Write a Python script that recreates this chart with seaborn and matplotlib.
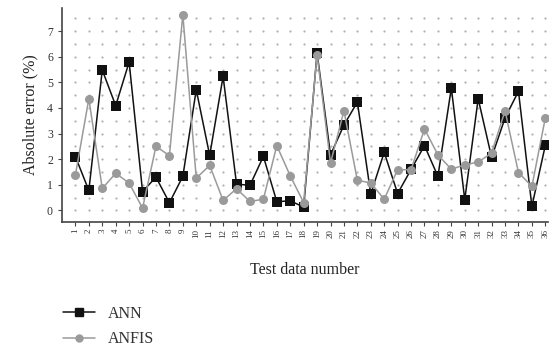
import numpy as np
import pandas as pd
import matplotlib
matplotlib.use("Agg")
import matplotlib.pyplot as plt
import seaborn as sns
from matplotlib.lines import Line2D

test_no = list(range(1, 37))
ann = [2.1, 0.78, 5.48, 4.09, 5.79, 0.74, 1.30, 0.30, 1.33, 4.71,
       2.15, 5.23, 1.03, 0.98, 2.11, 0.34, 0.38, 0.13, 6.15, 2.17,
       3.33, 4.23, 0.64, 2.27, 0.66, 1.6, 2.53, 1.33, 4.78, 0.42,
       4.36, 2.07, 3.61, 4.65, 0.16, 2.54]
anfis = [1.39, 4.36, 0.86, 1.45, 1.07, 0.09, 2.5, 2.14, 7.64, 1.26,
         1.76, 0.39, 0.85, 0.35, 0.44, 2.53, 1.35, 0.31, 6.08, 1.85,
         3.89, 1.18, 1.07, 0.44, 1.59, 1.59, 3.18, 2.17, 1.61, 1.78,
         1.89, 2.24, 3.89, 1.48, 0.94, 3.61]

df = pd.DataFrame({
    "Test data number": test_no * 2,
    "Absolute error (%)": ann + anfis,
    "Model": ["ANN"] * len(ann) + ["ANFIS"] * len(anfis),
})

sns.set_style("white")
plt.rcParams["font.family"] = ["Liberation Serif", "DejaVu Serif"]

fig = plt.figure(figsize=(5.57, 3.51), dpi=100)
ax = fig.add_axes([62 / 557, 1 - 222 / 351, 486 / 557, 214 / 351])

# dotted grid: a dot at every x tick / every half unit on y
gx, gy = np.meshgrid(test_no, np.arange(0, 8, 0.5))
ax.scatter(gx.ravel(), gy.ravel(), s=2.5, color="#b0b0b0", linewidths=0, zorder=1)

sns.lineplot(data=df, x="Test data number", y="Absolute error (%)",
             hue="Model", style="Model",
             palette={"ANN": "#111111", "ANFIS": "#9a9a9a"},
             markers={"ANN": "s", "ANFIS": "o"}, dashes=False,
             markersize=6.5, linewidth=1.1, markeredgewidth=0,
             ax=ax, legend=False, zorder=3)

ax.set_xlim(0.0, 36.2)
ax.set_ylim(-0.45, 7.9)
ax.set_xticks(test_no)
ax.set_xticklabels([str(i) for i in test_no], rotation=90, fontsize=6.5)
ax.set_yticks(range(0, 8))
ax.set_yticks(np.arange(0, 8, 0.5), minor=True)
ax.tick_params(axis="y", labelsize=8.5, length=3, color="#444444", labelcolor="#333333")
ax.tick_params(axis="x", length=3, pad=2, color="#444444", labelcolor="#333333")
ax.tick_params(axis="y", which="minor", length=2, color="#444444")
ax.tick_params(axis="both", direction="out", left=True, bottom=True)

for s in ["top", "right"]:
    ax.spines[s].set_visible(False)
for s in ["left", "bottom"]:
    ax.spines[s].set_color("#444444")
    ax.spines[s].set_linewidth(1.2)

ax.set_xlabel("Test data number", fontsize=11.5, color="#222222", labelpad=17)
ax.set_ylabel("Absolute error (%)", fontsize=11.5, color="#222222", labelpad=6)

handles = [
    Line2D([], [], color="#111111", marker="s", markersize=6, linewidth=1.1),
    Line2D([], [], color="#9a9a9a", marker="o", markersize=5, linewidth=1.1),
]
fig.legend(handles, ["ANN", "ANFIS"], loc="lower left",
           bbox_to_anchor=(0.088, -0.03), frameon=False, fontsize=11.5,
           handlelength=2.0, labelspacing=0.6, labelcolor="#333333")

fig.savefig("out.png", dpi=100)
